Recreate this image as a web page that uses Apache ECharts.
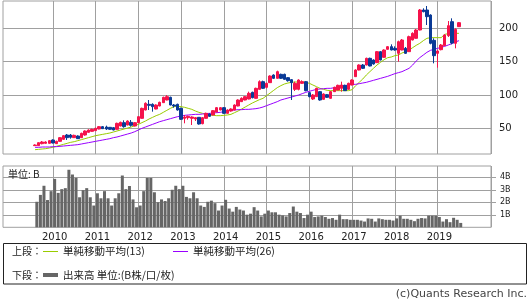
<!DOCTYPE html>
<html><head><meta charset="utf-8">
<script src="https://cdn.jsdelivr.net/npm/echarts@6/dist/echarts.min.js"></script>
<style>html,body{margin:0;padding:0;background:#fff}#c{width:530px;height:300px}</style>
</head><body><div id="c"></div>
<script>
// ---- axis categories (monthly) ----
const axisStart = [2008, 11];   // first category on the axis
const axisMonths = 137;          // Nov 2008 .. Mar 2020
const dataStart = [2009, 8];     // first candle: Aug 2009
const yearTicks = ['2010','2011','2012','2013','2014','2015','2016','2017','2018','2019'];
const priceTicks = [50, 100, 150, 200];
const volTicks = [1, 2, 3, 4];

// ---- monthly OHLC (Aug 2009 .. Jul 2019) ----
const openV = [24,24,27,27.5,27.5, 32.5,27,30.5,33.5,40, 40,36,38.5,36,40, 44,45.5,46.5,49,52.5,
 52,51.5,51,48.5,53.5, 58.5,55,59,53.5,58.5, 65,77.5,86,86,79, 83.5,88.5,92.5,96.5,85,
 86,80,65,66,65, 64,66.5,57,65,71.5, 70,74.5,77.5,81,72.5, 76,77.5,83.5,90,92.5,
 94,104,95,108.5,120, 111.5,118.5,130,125,131, 131,126,123,108.5,108.5, 117.5,120,103.5,94,97.5,
 105,93.5,100.5,95,105, 107.5,110,114.5,108.5,115, 127.5,137.5,145,145,155, 152.5,148.5,165,156.5,168.5,
 172.5,170,162.5,167.5,170, 165,182.5,185,197.5,227.5, 227.5,220,182,162.5,168, 174,189,210,177.5,202.5];
const closeV = [25,28.5,29.5,29.5,31.5, 28,30.5,36,39,36, 36.5,39.5,34.5,42.5,46, 47.5,48.5,50,52.5,49.5,
 49,48.5,47.5,57.5,59, 52.5,61,54.5,58.5,67.5, 80,87.5,84.5,82.5,85, 89,96.5,97.5,85,83.5,
 77.5,63.5,67,68,67, 66,56.5,66,72.5,68, 76.5,81,81,72.5,77.5, 79,85,92.5,95,97.5,
 102.5,96,110,120,110, 117.5,128.5,125,135,125, 123.5,121.5,118.5,117.5,122.5, 120,106.5,97.5,100,110,
 92.5,101.5,96.5,105,111.5, 114.5,115,106.5,117.5,122.5, 137.5,145,140,155,143.5, 146.5,165,152.5,167.5,172.5,
 167.5,167.5,180,182.5,162.5, 187.5,192.5,197.5,227.5,225, 217.5,177.5,159,166,175, 190,204,178,198.5,208.5];
const lowV = [23.5,23.5,26,27,27, 27.5,26.5,30,33,32.5, 34.5,35.5,34,35.5,39, 43.5,45,46,48.5,49,
 47.5,48,47,48,53, 51,54.5,52.5,53,58, 64.5,77,77.5,75,78.5, 83,88,92,84.5,81,
 76.5,62.5,57.5,63,55, 61,55.5,56,64.5,67, 69.5,74,77,72,72, 75,77,83,89.5,92,
 93.5,95,94.5,108,109, 110,118,124,124.5,124, 123,120,92.5,106,107, 116.5,105.5,96.5,92.5,97,
 91.5,93,95.5,94.5,104.5, 107,105,106,108,114.5, 127,137,139,144.5,143, 145.5,148,152,156,168,
 167,166.5,150,167,161.5, 164.5,182,184.5,197,224, 205,176,147.5,141,167, 173.5,187,176,170,202];
const highV = [26,29,31,30.5,32.5, 33.5,31.5,37,40,41.5, 41.5,40.5,39.5,43.5,47, 48.5,49.5,51,53.5,53.5,
 54,52,52,58.5,60, 62,62,62.5,59.5,68.5, 81,89,92.5,87.5,86, 90,97.5,100,97.5,86.5,
 87,81,70,69,68, 67,67,67,73.5,72.5, 77.5,82,82,82,78.5, 80,86,93.5,96.5,98.5,
 105,105,111,122,121.5, 118.5,129.5,131,136.5,132, 132,127,124,120,123.5, 122,121,104.5,101.5,111,
 106,102.5,101.5,106,112.5, 115.5,120,115.5,118.5,123.5, 138.5,146,146.5,156,156, 153.5,166,166,168.5,173.5,
 176,173,181.5,184,172, 189,194,199,229,230, 233.5,221,185,168,176.5, 191,211,215,200,209.5];

// ---- moving averages ----
const ma13 = [18,18.5,19,19.5,20.5, 21.5,23,24.5,26,27.5, 29,30,31.5,33,34.5, 36,37.5,39,40,41,
 42,43,44.5,46,47.5, 49,50.5,52,54,56, 58.5,61,64,66.5,69, 71,74,77,80,82.5,
 83,82.5,81.5,80,78.5, 76,74,72.5,71,70, 69.5,69,69,69.5,70, 71,73.5,76,79,82,
 85,88,90.5,93,95, 99,103,107,111,114, 116.5,118,119,119.5,119.5, 119.5,119,117.5,115,112.5,
 110,108.5,107,106.5,106.5, 106.5,106.5,106.5,106.5,108, 114,119,124,130,135, 140,145,149,153,156,
 157,159,160,163,165, 167.5,171,174.5,177.5,181.5, 185,186,186,186,186, 191,192,192,192.5,192.5];
const ma26 = [21.5,21.5,22,22,22, 22.5,22.5,23,23.5,24, 24.5,25,25.5,26.5,27.5, 28.5,29.5,30.5,31.5,32.5,
 33.5,34.5,36,37,38.5, 40,41.5,43,45,47.5, 50,52,54,56,58, 60,61.5,63,64.5,66,
 67.5,68.5,69.5,70,70.5, 71,71,71.5,72,72.5, 73,73.5,74,75,76, 77,77.5,78,78,78.5,
 78.5,79,79.5,80.5,82, 84,86,88,90,92.5, 94,95.5,97,98.5,100, 102,104,105.5,107,108.5,
 109,109.5,110,110,111, 112,113,114,115,116, 116,117,118,119,120.5, 122,123.5,125,126.5,128,
 130,132,133.5,135,137.5, 140,145,151,156,160, 164,167,168.5,170,171.5, 173,175,177,179.5,181.5];

// ---- monthly volume (B) ----
const volume = [2.04,2.59,3.32,2.18,2.89,3.87,2.75,3.05,3.13,4.6,
 4.22,3.95,2.4,2.97,3.13,2.4,1.74,2.72,2.32,2.89,
 2.32,1.74,2.32,2.72,4.14,3.05,3.3,2.23,1.6,1.74,
 2.89,3.95,3.95,2.8,2.0,2.23,2.1,2.32,3.0,3.32,
 3.05,3.32,2.43,2.32,2.8,2.32,1.74,1.63,2.04,2.13,
 1.93,1.34,1.74,2.2,1.5,1.25,1.63,1.42,1.34,1.01,
 1.09,1.61,1.34,0.87,1.09,1.34,1.2,1.2,1.01,0.95,
 0.87,1.14,1.66,1.25,1.14,0.74,1.01,1.25,0.82,0.87,
 0.93,0.82,0.68,0.74,0.6,1.01,0.65,0.65,0.6,0.6,
 0.6,0.54,0.46,0.71,0.68,0.46,0.71,0.65,0.6,0.6,
 0.54,0.71,0.93,0.68,0.68,0.6,0.49,0.68,0.74,0.71,
 0.93,0.93,0.93,0.82,0.46,0.65,0.41,0.76,0.6,0.35];

// ---- build axis + padded series ----
const cats = [];
{ let y = axisStart[0], m = axisStart[1];
  for (let i = 0; i < axisMonths; i++) { cats.push(y + '-' + String(m).padStart(2,'0')); m++; if (m > 12) { m = 1; y++; } } }
// candle axis: one point per month boundary (candles sit on the month lines)
const catsC = cats.concat(['end']);
const offset = cats.indexOf(dataStart[0] + '-' + String(dataStart[1]).padStart(2,'0'));
function pad(len, arr, fn) { const out = new Array(len).fill('-'); arr.forEach((v,i)=>{ out[offset+i] = fn ? fn(i) : v; }); return out; }
const candle = pad(catsC.length, openV, i => [openV[i], closeV[i], lowV[i], highV[i]]);
const ma13S = pad(catsC.length, ma13), ma26S = pad(catsC.length, ma26), volS = pad(cats.length, volume);

const isYear = (idx, val) => yearTicks.indexOf(String(val).slice(0,4)) >= 0 && String(val).slice(5) === '01';
const GRID = '#a0a0a0';
const UP = '#f5134b', DOWN = '#0a3a96';
const CJK = '"Noto Sans CJK JP"';

const chart = echarts.init(document.getElementById('c'), null, {renderer:'canvas'});
chart.setOption({
  animation: false,
  backgroundColor: '#fff',
  grid: [
    {left: 3, width: 488, top: 1, height: 153, show: true, borderColor: GRID, borderWidth: 1, backgroundColor: '#fff'},
    {left: 3, width: 488, top: 166, height: 61.3, show: true, borderColor: GRID, borderWidth: 1, backgroundColor: '#fff'}
  ],
  xAxis: [
    {type: 'category', gridIndex: 0, data: cats, boundaryGap: true,
     axisLine: {show: false}, axisTick: {show: false}, axisLabel: {show: false},
     splitLine: {show: true, interval: isYear, lineStyle: {color: GRID, width: 1}}},
    {type: 'category', gridIndex: 1, data: cats, boundaryGap: true,
     axisLine: {show: false}, axisTick: {show: false},
     axisLabel: {show: true, interval: isYear, formatter: v => v.slice(0,4), fontFamily: 'DejaVu Sans', fontSize: 10, color: '#222', margin: 5},
     splitLine: {show: true, interval: isYear, lineStyle: {color: GRID, width: 1}}},
    {type: 'category', gridIndex: 0, data: catsC, boundaryGap: false, show: false,
     axisLine: {show: false}, axisTick: {show: false}, axisLabel: {show: false}, splitLine: {show: false}}
  ],
  yAxis: [
    {type: 'value', gridIndex: 0, position: 'right', min: 11.5, max: 241,
     axisLine: {show: false},
     axisTick: {show: false, customValues: priceTicks},
     axisLabel: {customValues: priceTicks, fontFamily: 'DejaVu Sans', fontSize: 10, color: '#222', margin: 8},
     splitLine: {show: true, lineStyle: {color: GRID, width: 1}}},
    {type: 'value', gridIndex: 1, position: 'right', min: 0, max: 4.9,
     axisLine: {show: false},
     axisTick: {show: true, customValues: volTicks, length: 5, lineStyle: {color: GRID}},
     axisLabel: {customValues: volTicks, formatter: v => v + 'B', fontFamily: 'DejaVu Sans', fontSize: 8, color: '#222', margin: 9},
     splitLine: {show: true, lineStyle: {color: GRID, width: 1}}}
  ],
  series: [
    {type: 'line', xAxisIndex: 2, yAxisIndex: 0, data: ma13S, showSymbol: false, z: 3,
     lineStyle: {color: '#99cc00', width: 1}},
    {type: 'line', xAxisIndex: 2, yAxisIndex: 0, data: ma26S, showSymbol: false, z: 3,
     lineStyle: {color: '#9900ff', width: 1}},
    {type: 'candlestick', xAxisIndex: 2, yAxisIndex: 0, data: candle, barWidth: 3, z: 4,
     itemStyle: {color: UP, color0: DOWN, borderColor: UP, borderColor0: DOWN, borderWidth: 1}},
    {type: 'bar', xAxisIndex: 1, yAxisIndex: 1, data: volS, barWidth: 3,
     itemStyle: {color: '#666666'}}
  ],
  graphic: [
    {type: 'text', x: 8, y: 174, z: 10, style: {text: '単位: B', font: '10px ' + CJK, fill: '#222', verticalAlign: 'middle'}},
    {type: 'rect', shape: {x: 3.5, y: 243.5, width: 523, height: 40.5}, style: {fill: '#fff', stroke: '#222', lineWidth: 1}},
    {type: 'text', x: 12, y: 251, style: {text: '上段：', font: '10px ' + CJK, fill: '#222', verticalAlign: 'middle'}},
    {type: 'line', shape: {x1: 43, y1: 251.5, x2: 58, y2: 251.5}, style: {stroke: '#99cc00', lineWidth: 1}},
    {type: 'text', x: 63, y: 251, style: {text: '単純移動平均(13)', font: '10.5px ' + CJK, fill: '#222', verticalAlign: 'middle'}},
    {type: 'line', shape: {x1: 173, y1: 251.5, x2: 188, y2: 251.5}, style: {stroke: '#9900ff', lineWidth: 1}},
    {type: 'text', x: 193, y: 251, style: {text: '単純移動平均(26)', font: '10.5px ' + CJK, fill: '#222', verticalAlign: 'middle'}},
    {type: 'text', x: 12, y: 275, style: {text: '下段：', font: '10px ' + CJK, fill: '#222', verticalAlign: 'middle'}},
    {type: 'rect', shape: {x: 43, y: 273, width: 15, height: 4}, style: {fill: '#666666'}},
    {type: 'text', x: 63, y: 275, style: {text: '出来高 単位:(B株/口/枚)', font: '10.5px ' + CJK, fill: '#222', verticalAlign: 'middle'}},
    {type: 'text', right: 3, top: 289, style: {text: '(c)Quants Research Inc.', font: '11px "DejaVu Sans"', fill: '#444'}}
  ]
});
</script></body></html>
